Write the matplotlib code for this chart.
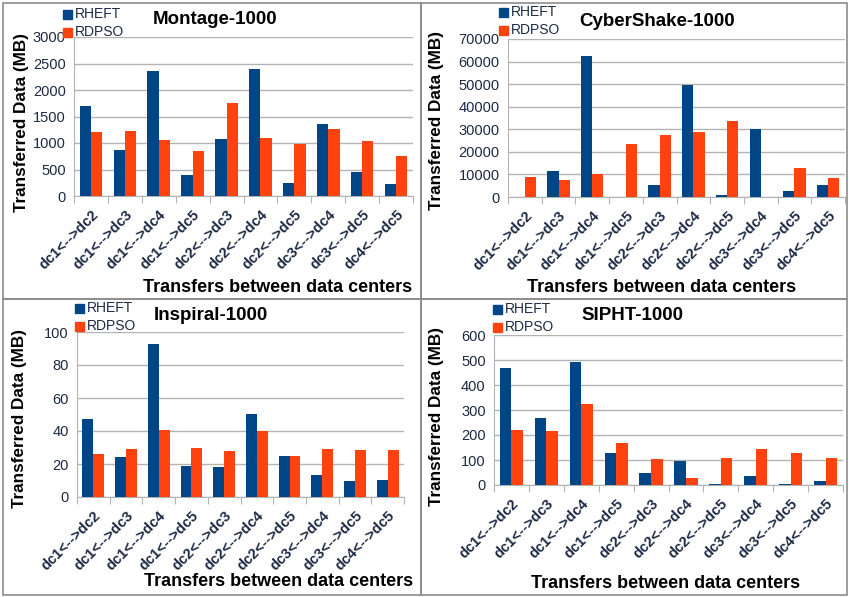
import numpy as np
import matplotlib.pyplot as plt
from matplotlib.patches import Rectangle

plt.rcParams['font.family'] = ['Liberation Sans', 'DejaVu Sans']

pares = ["dc1<-->dc2", "dc1<-->dc3", "dc1<-->dc4", "dc1<-->dc5", "dc2<-->dc3",
         "dc2<-->dc4", "dc2<-->dc5", "dc3<-->dc4", "dc3<-->dc5", "dc4<-->dc5"]

montage_rheft = [1690, 860, 2350, 390, 1080, 2400, 250, 1360, 460, 230]
montage_rdpso = [1200, 1220, 1060, 840, 1760, 1100, 990, 1270, 1030, 750]

cyber_rheft = [0, 11500, 62500, 0, 5300, 49800, 800, 30200, 2500, 5300]
cyber_rdpso = [8700, 7600, 10300, 23700, 27500, 28700, 33700, 0, 12700, 8200]

inspiral_rheft = [47.5, 24, 93, 19, 18, 50.5, 25, 13.5, 9.5, 10.5]
inspiral_rdpso = [26, 29, 40.5, 30, 28, 40, 25, 29, 28.5, 28.5]

sipht_rheft = [468, 268, 493, 128, 48, 98, 5, 38, 5, 17]
sipht_rdpso = [222, 218, 323, 168, 103, 27, 108, 143, 128, 108]

AZUL = '#004586'
NARANJA = '#ff420e'
W, H = 849, 597

fig = plt.figure(figsize=(W / 100, H / 100), dpi=100)

# marcos de los cuatro paneles (en pixeles)
for (x0, y0, x1, y1) in [(3, 3, 421, 299), (421, 3, 847, 299), (3, 299, 421, 595), (421, 299, 847, 595)]:
    fig.patches.append(Rectangle((x0 / W, 1 - y1 / H), (x1 - x0) / W, (y1 - y0) / H,
                                 transform=fig.transFigure, fill=False, ec='#8c8c8c', lw=1.2))


def panel(caja, rheft, rdpso, ymax, paso, titulo, pos_titulo, pos_xlab, pos_ylab, pos_leyenda):
    l, r, t, b = caja
    ax = fig.add_axes([l / W, 1 - b / H, (r - l) / W, (b - t) / H])
    x = np.arange(len(pares))
    ancho = 1 / 3
    ax.bar(x - ancho / 2, rheft, ancho, color=AZUL, zorder=3)
    ax.bar(x + ancho / 2, rdpso, ancho, color=NARANJA, zorder=3)
    ax.set_xlim(-0.5, len(pares) - 0.5)
    ax.set_ylim(0, ymax)
    ax.set_yticks(np.arange(0, ymax + paso / 2, paso))
    ax.yaxis.grid(True, color='#b3b3b3', lw=1)
    ax.set_axisbelow(True)
    for s in ['top', 'right']:
        ax.spines[s].set_visible(False)
    ax.spines['left'].set_color('#b3b3b3')
    ax.spines['bottom'].set_color('#b3b3b3')
    ax.tick_params(axis='y', length=0, labelsize=10.5, labelcolor='#1c2a44', pad=6)
    ax.set_xticks(np.arange(len(pares) + 1) - 0.5, minor=False)
    ax.set_xticklabels([])
    ax.tick_params(axis='x', which='major', length=5, color='#b3b3b3')
    ax.set_xticks(x, minor=True)
    ax.set_xticklabels(pares, minor=True, rotation=45, ha='right', rotation_mode='anchor',
                       fontsize=10.5, fontweight='bold', color='#1c2a44')
    ax.tick_params(axis='x', which='minor', length=0, pad=8)
    fig.text(pos_titulo[0] / W, 1 - pos_titulo[1] / H, titulo, ha='center', va='center',
             fontsize=13.5, fontweight='bold')
    fig.text(pos_xlab[0] / W, 1 - pos_xlab[1] / H, "Transfers between data centers",
             ha='center', va='center', fontsize=13, fontweight='bold')
    fig.text(pos_ylab[0] / W, 1 - pos_ylab[1] / H, "Transferred Data (MB)", rotation=90,
             ha='center', va='center', fontsize=12.3, fontweight='bold')
    lx, ly = pos_leyenda
    for i, (nombre, col) in enumerate([("RHEFT", AZUL), ("RDPSO", NARANJA)]):
        yy = ly + i * 18
        fig.patches.append(Rectangle((lx / W, 1 - (yy + 5) / H), 9 / W, 9 / H,
                                     transform=fig.transFigure, color=col))
        fig.text((lx + 12) / W, 1 - yy / H, nombre, ha='left', va='center',
                 fontsize=10, color='#1c2a44')
    return ax


panel((74, 413, 37, 196), montage_rheft, montage_rdpso, 3000, 500, "Montage-1000",
      (215, 20), (278, 287), (22, 123), (63, 14))
panel((508, 845, 39, 197), cyber_rheft, cyber_rdpso, 70000, 10000, "CyberShake-1000",
      (657, 22), (662, 287), (437, 120), (499, 12))
panel((77, 404, 332, 497), inspiral_rheft, inspiral_rdpso, 100, 20, "Inspiral-1000",
      (211, 316), (279, 582), (20, 419), (75, 308))
panel((494, 843, 335, 485), sipht_rheft, sipht_rdpso, 600, 100, "SIPHT-1000",
      (632, 316), (666, 583), (437, 416), (493, 309))

fig.savefig("out.png", dpi=100, facecolor='white')
